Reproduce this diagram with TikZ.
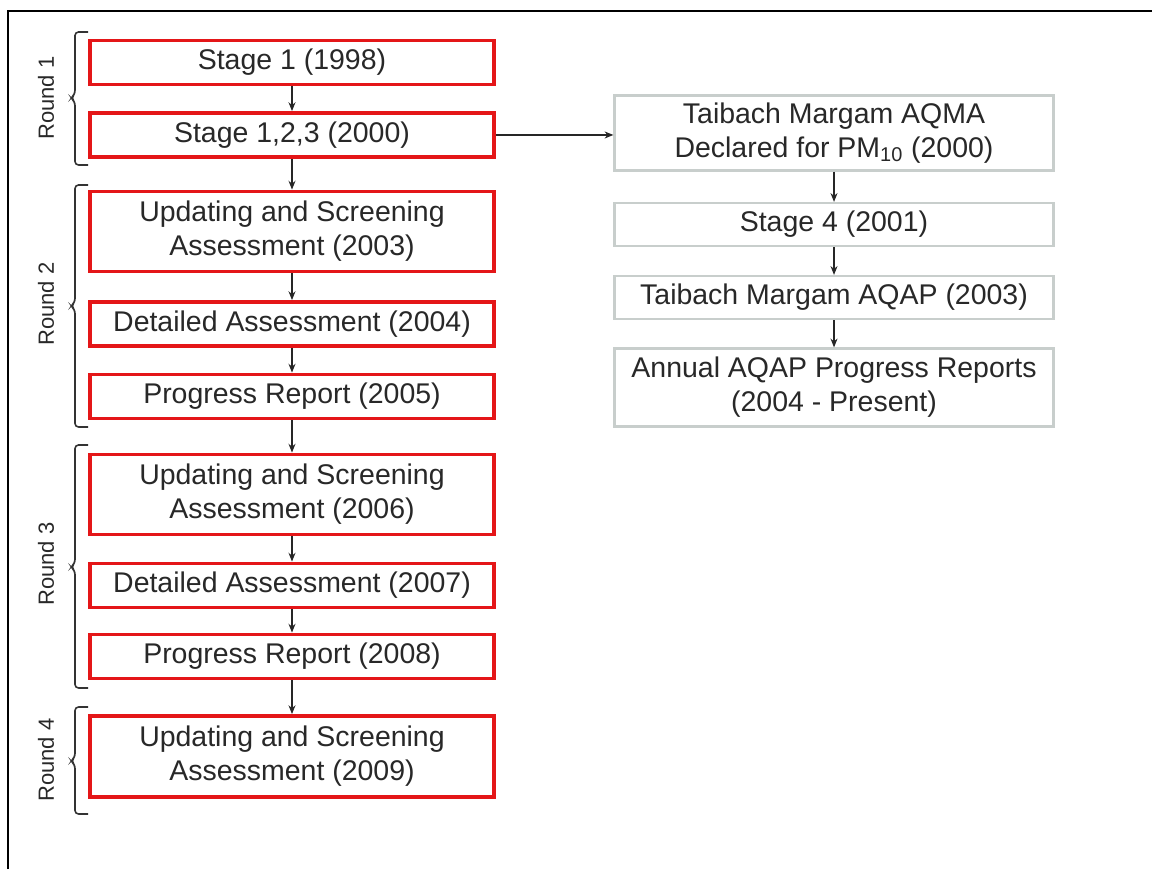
\documentclass[tikz,border=0pt]{standalone}
\usepackage{fontspec}
\setmainfont{Liberation Sans}
\usepackage{tikz}
\usetikzlibrary{arrows.meta}
\definecolor{boxred}{RGB}{228,22,24}
\definecolor{boxgrey}{RGB}{200,206,204}
\definecolor{txtgrey}{RGB}{40,40,40}

\begin{document}
\begin{tikzpicture}[>={Stealth[length=5pt,width=4pt]}, font=\fontsize{16.2}{19.4}\selectfont,
 rbox/.style={draw=boxred,line width=2.2pt,minimum width=8.08cm,minimum height=0.88cm,align=center,fill=white,inner sep=0pt,text=txtgrey},
 gbox/.style={draw=boxgrey,line width=1.3pt,minimum width=8.78cm,minimum height=0.86cm,align=center,fill=white,inner sep=0pt,text=txtgrey},
 flow/.style={->,line width=0.6pt,black!85},
 brk/.style={line width=0.9pt,black!80,rounded corners=2pt},
 rlab/.style={rotate=90,text=txtgrey,font=\fontsize{12.5}{15}\selectfont}]
\useasboundingbox (0,0) rectangle (23.04,17.38);
% frame
\draw[line width=1pt] (0.16,0) -- (0.16,17.16) -- (23.04,17.16);
% review rounds
\node[rbox] (st1) at (5.84,16.13) {Stage 1 (1998)};
\node[rbox] (st123) at (5.84,14.68) {Stage 1,2,3 (2000)};
\node[rbox,minimum height=1.6cm] (usa03) at (5.84,12.75) {Updating and Screening\\Assessment (2003)};
\node[rbox] (da04) at (5.84,10.90) {Detailed Assessment (2004)};
\node[rbox] (pr05) at (5.84,9.45) {Progress Report (2005)};
\node[rbox,minimum height=1.6cm] (usa06) at (5.84,7.49) {Updating and Screening\\Assessment (2006)};
\node[rbox] (da07) at (5.84,5.67) {Detailed Assessment (2007)};
\node[rbox] (pr08) at (5.84,4.25) {Progress Report (2008)};
\node[rbox,minimum height=1.62cm] (usa09) at (5.84,2.25) {Updating and Screening\\Assessment (2009)};
% AQMA branch
\node[gbox,minimum height=1.5cm] (aqma) at (16.68,14.72) {Taibach Margam AQMA\\Declared for PM\textsubscript{10} (2000)};
\node[gbox] (st4) at (16.68,12.89) {Stage 4 (2001)};
\node[gbox] (aqap) at (16.68,11.43) {Taibach Margam AQAP (2003)};
\node[gbox,minimum height=1.56cm] (annual) at (16.68,9.63) {Annual AQAP Progress Reports\\(2004 - Present)};
% round brackets
\draw[brk] (1.76,16.74) -- (1.5,16.74) -- (1.5,15.5) -- (1.42,15.42) -- (1.5,15.34) -- (1.5,14.08) -- (1.76,14.08);
\node[rlab] (r1) at (0.92,15.42) {Round 1};
\draw[brk] (1.76,13.68) -- (1.5,13.68) -- (1.5,11.34) -- (1.42,11.26) -- (1.5,11.18) -- (1.5,8.84) -- (1.76,8.84);
\node[rlab] (r2) at (0.92,11.30) {Round 2};
\draw[brk] (1.76,8.48) -- (1.5,8.48) -- (1.5,6.12) -- (1.42,6.04) -- (1.5,5.96) -- (1.5,3.62) -- (1.76,3.62);
\node[rlab] (r3) at (0.92,6.10) {Round 3};
\draw[brk] (1.76,3.24) -- (1.5,3.24) -- (1.5,2.24) -- (1.42,2.16) -- (1.5,2.08) -- (1.5,1.10) -- (1.76,1.10);
\node[rlab] (r4) at (0.92,2.18) {Round 4};
% flow
\draw[flow] (st1) -- (st123);
\draw[flow] (st123) -- (usa03);
\draw[flow] (usa03) -- (da04);
\draw[flow] (da04) -- (pr05);
\draw[flow] (pr05) -- (usa06);
\draw[flow] (usa06) -- (da07);
\draw[flow] (da07) -- (pr08);
\draw[flow] (pr08) -- (usa09);
\draw[flow] (st123.east) -- (st123.east -| aqma.west);
\draw[flow] (aqma) -- (st4);
\draw[flow] (st4) -- (aqap);
\draw[flow] (aqap) -- (annual);
\end{tikzpicture}
\end{document}
